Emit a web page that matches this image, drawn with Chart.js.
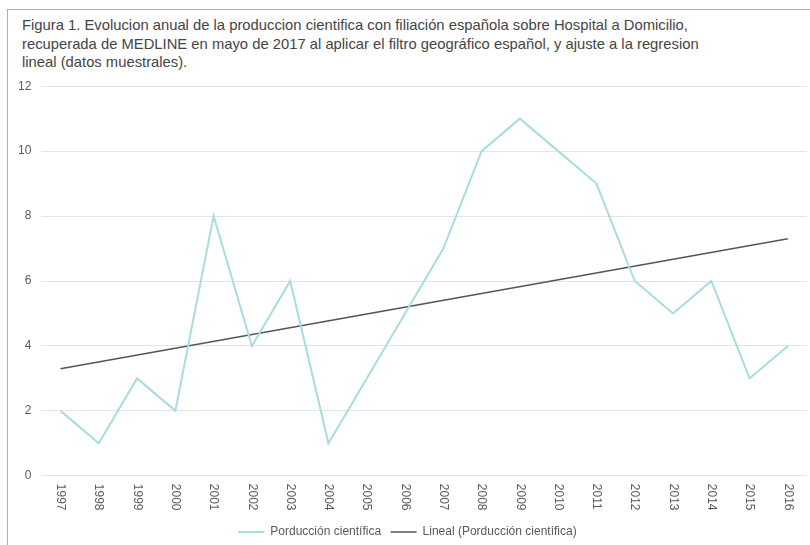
<!DOCTYPE html>
<html>
<head>
<meta charset="utf-8">
<script src="https://cdn.jsdelivr.net/npm/chart.js@4/dist/chart.umd.min.js"></script>
<style>
  html, body { margin: 0; padding: 0; background: #fff; overflow: hidden; width: 810px; height: 545px; }
  #frame {
    position: absolute; left: 7px; top: 9px; width: 900px; height: 600px;
    border-top: 1px solid #b0b0b0; border-left: 1px solid #b0b0b0;
  }
  #title {
    position: absolute; left: 22px; top: 16px; white-space: nowrap;
    font-family: "Liberation Sans", Arial, sans-serif; font-size: 14.5px;
    line-height: 18.5px; color: #454545;
    transform: scaleX(1.02); transform-origin: 0 0;
  }
  #wrap { position: absolute; left: 8px; top: 69px; width: 802px; height: 479px; }
</style>
</head>
<body>
<div id="frame"></div>
<div id="title">Figura 1. Evolucion anual de la produccion cientifica con filiación española sobre Hospital a Domicilio,<br>recuperada de MEDLINE en mayo de 2017 al aplicar el filtro geográfico español, y ajuste a la regresion<br>lineal (datos muestrales).</div>
<div id="wrap"><canvas id="chart"></canvas></div>
<script>
  'use strict';

  // Data.
  const years = [ '1997', '1998', '1999', '2000', '2001', '2002', '2003', '2004', '2005', '2006',
    '2007', '2008', '2009', '2010', '2011', '2012', '2013', '2014', '2015', '2016' ];
  const produccion = [ 2, 1, 3, 2, 8, 4, 6, 1, 3, 5, 7, 10, 11, 10, 9, 6, 5, 6, 3, 4 ];
  // Linear trend line: value at first and last year.
  const trendEnds = [ 3.3, 7.3 ];
  const yTicks = [ 0, 2, 4, 6, 8, 10, 12 ];

  const last = years.length - 1;
  const trendData = years.map( ( y, i ) => ( i === 0 ? trendEnds[0] : ( i === last ? trendEnds[1] : null ) ) );

  // Draw x labels rotated clockwise (reading top to bottom).
  const verticalLabels = {
    id: 'verticalLabels',
    afterDraw( chart ) {
      const scale = chart.scales.x;
      const ctx = chart.ctx;
      ctx.save();
      ctx.font = '12px "Liberation Sans", Arial, sans-serif';
      ctx.fillStyle = '#595959';
      ctx.textAlign = 'left';
      ctx.textBaseline = 'middle';
      years.forEach( ( label, i ) => {
        const x = scale.getPixelForTick( i );
        ctx.save();
        ctx.translate( x, scale.top + 8 );
        ctx.rotate( Math.PI / 2 );
        ctx.fillText( label, 0, 0 );
        ctx.restore();
      } );
      ctx.restore();
    }
  };

  new Chart( document.getElementById( 'chart' ), {
    type: 'line',
    data: {
      labels: years,
      datasets: [
        {
          label: 'Porducción científica',
          data: produccion,
          borderColor: '#a9dcdf',
          backgroundColor: '#a9dcdf',
          borderWidth: 2,
          pointRadius: 0,
          tension: 0
        },
        {
          label: 'Lineal (Porducción científica)',
          data: trendData,
          borderColor: '#555555',
          backgroundColor: '#555555',
          borderWidth: 1.5,
          pointRadius: 0,
          spanGaps: true
        }
      ]
    },
    options: {
      responsive: true,
      maintainAspectRatio: false,
      animation: false,
      layout: { padding: { left: 0, right: 3, top: 6, bottom: 0 } },
      plugins: {
        legend: {
          position: 'bottom',
          labels: {
            usePointStyle: true,
            pointStyle: 'line',
            pointStyleWidth: 26,
            color: '#595959',
            font: { family: '"Liberation Sans", Arial, sans-serif', size: 12 },
            padding: 9.5
          }
        },
        tooltip: { enabled: false }
      },
      scales: {
        x: {
          offset: true,
          grid: { display: false },
          border: { display: false },
          ticks: {
            color: 'rgba(0,0,0,0)',
            minRotation: 90,
            maxRotation: 90,
            autoSkip: false,
            font: { family: '"Liberation Sans", Arial, sans-serif', size: 12 }
          }
        },
        y: {
          min: 0,
          max: 12,
          afterBuildTicks( axis ) {
            axis.ticks = yTicks.map( v => ( { value: v } ) );
          },
          grid: { color: '#e4e4e4', drawTicks: false },
          border: { display: false },
          ticks: {
            color: '#595959',
            padding: 10,
            font: { family: '"Liberation Sans", Arial, sans-serif', size: 12 }
          }
        }
      }
    },
    plugins: [ verticalLabels ]
  } );
</script>
</body>
</html>
